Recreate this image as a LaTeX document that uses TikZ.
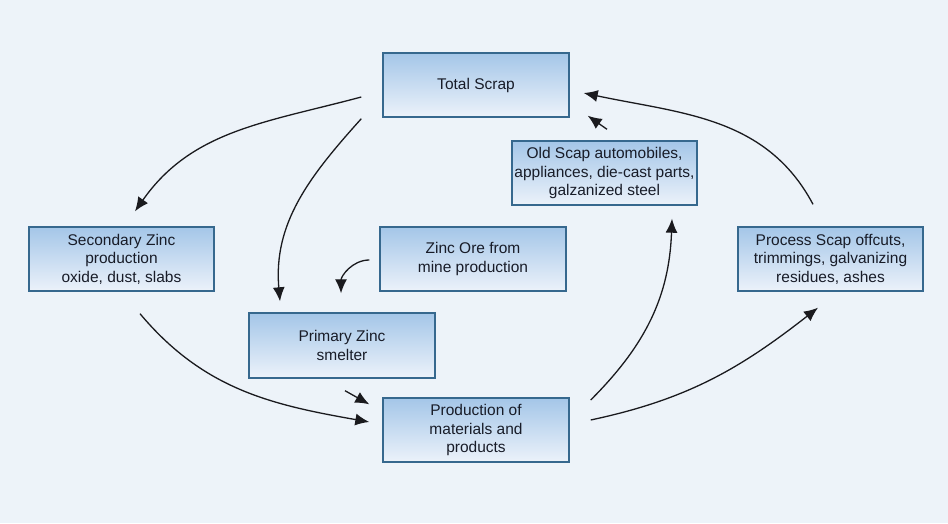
\documentclass[tikz,border=0pt]{standalone}
\usepackage{fontspec}
\setmainfont{Liberation Sans}
\usetikzlibrary{arrows.meta,calc}
\definecolor{bgc}{RGB}{237,243,249}
\definecolor{boxtop}{RGB}{164,198,232}
\definecolor{boxbot}{RGB}{236,242,250}
\definecolor{boxline}{RGB}{54,104,142}
\definecolor{txt}{RGB}{24,28,40}
\definecolor{arrc}{RGB}{26,26,30}
\tikzset{
  box/.style={draw=boxline, line width=1.4pt, top color=boxtop, bottom color=boxbot,
    minimum width=186pt, minimum height=64pt, inner sep=2pt, align=center,
    text=txt, font=\fontsize{15.5}{18.5}\selectfont},
  arr/.style={draw=arrc, line width=1.3pt, -{Latex[length=14pt,width=12pt]}}
}
\begin{document}
\begin{tikzpicture}[x=1pt,y=1pt]
\fill[bgc] (0,0) rectangle (948,523);
\useasboundingbox (0,0) rectangle (948,523);
\node[box] (ts) at (476,438) {Total Scrap};
\node[box, minimum width=185pt] (old) at (604.5,350) {Old Scap automobiles,\\appliances, die-cast parts,\\galzanized steel};
\node[box, minimum width=185pt] (sec) at (121.5,264) {Secondary Zinc\\production\\oxide, dust, slabs};
\node[box] (ore) at (473,264) {Zinc Ore from\\mine production};
\node[box, minimum width=185pt] (proc) at (830.5,264) {Process Scap offcuts,\\trimmings, galvanizing\\residues, ashes};
\node[box, minimum height=65pt] (prim) at (342,177.5) {Primary Zinc\\smelter};
\node[box] (prod) at (476,93) {Production of\\materials and\\products};

\draw[arr] ([shift={(-21,-12)}]ts.west) to[out=195,in=55] ([shift={(13.5,15)}]sec.north);
\draw[arr] ([shift={(-21,-1)}]ts.south west) to[out=228,in=95] ([shift={(-62,11)}]prim.north);
\draw[arr] ([shift={(-10,-1)}]ore.west) to[out=180,in=90] ([shift={(-1,19)}]prim.north);
\draw[arr] ([shift={(18.5,-22)}]sec.south) to[out=310,in=170] ([shift={(-13,8)}]prod.west);
\draw[arr] ([shift={(3,-12)}]prim.south) -- ([shift={(-13,-7)}]prod.north west);
\draw[arr] ([shift={(21,30)}]prod.east) to[out=45,in=-92] ([shift={(67.5,-13)}]old.south);
\draw[arr] ([shift={(21,10)}]prod.east) to[out=12,in=218] ([shift={(-12.5,-16)}]proc.south);
\draw[arr] ([shift={(-17.5,22)}]proc.north) to[out=118,in=-12] ([shift={(14,-8)}]ts.east);
\draw[arr] ([shift={(2.5,11)}]old.north) -- ([shift={(18,2)}]ts.south east);
\end{tikzpicture}
\end{document}
